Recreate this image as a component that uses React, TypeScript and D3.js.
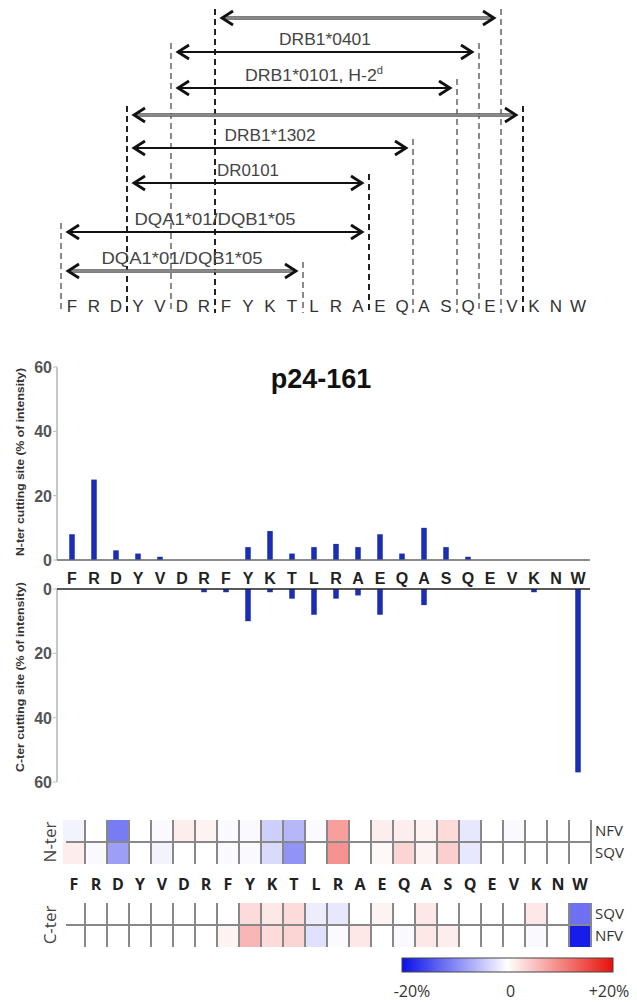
import React from "react";
import * as d3 from "d3";

// peptide sequence p24-161
const residues = ["F", "R", "D", "Y", "V", "D", "R", "F", "Y", "K", "T", "L", "R", "A", "E", "Q", "A", "S", "Q", "E", "V", "K", "N", "W"];

// cutting site intensities (% of intensity)
const nterCut = [8, 25, 3, 2, 1, 0, 0, 0, 4, 9, 2, 4, 5, 4, 8, 2, 10, 4, 1, 0, 0, 0, 0, 0];
const cterCut = [0, 0, 0, 0, 0, 0, 1, 1, 10, 1, 3, 8, 3, 2, 8, 0, 5, 0, 0, 0, 0, 1, 0, 57];
const yTicks = [0, 20, 40, 60];

// heatmap differences (%), -20 .. +20
const nterNFV = [-1, 0, -11, 0, -0.5, 1.5, 1, -0.5, -0.5, -4, -6, -0.3, 8, 0, 1.5, 1.5, 1, 3, -2, 0, -0.5, 0, 0, 0];
const nterSQV = [1.5, -0.5, -8, 0, -1, 0, 0, -0.5, -0.5, -3, -9, 0, 9, 0, 0.5, 3.5, 1, 4, -2, 0, 0, 0, 0, 0];
const cterSQV = [0, 0, 0, 0, 0, 0, 0, 0, 3, 2, 3, -1.5, -2, 0, 1, 0, 2, 0, 0, 0, 0, 2, 0, -12];
const cterNFV = [0, 0, 0, 0, 0, 0, 0, 1, 6, 3, 3.5, -2.5, -0.3, 2, 0, -0.5, 2, 1.5, 0, 0, 0, -0.5, 0, -19];
const colorTicks = [-20, 0, 20];
const colorTickLabels = ["-20%", "0", "+20%"];

// epitopes: boundary index before start residue / before end residue
const epitopeLabels = ["", "DRB1*0401", "DRB1*0101, H-2", "", "DRB1*1302", "DR0101", "DQA1*01/DQB1*05", "DQA1*01/DQB1*05"];
const epitopeSup = ["", "", "d", "", "", "", "", ""];
const epitopeStart = [7, 5, 5, 3, 3, 3, 0, 0];
const epitopeEnd = [20, 19, 18, 21, 16, 14, 14, 11];

const W = 637;
const H = 1002;
const arrowY = [18, 52, 88, 115, 148, 183, 232, 271];
const labelW = [0, 92, 138, 0, 91, 62, 161, 161];
const doubleArrows = [0, 3, 7];
const darkBounds = [3, 7, 14, 21];

const idx = residues.map((_, i) => i);
const x = d3.scaleBand<number>().domain(idx).range([61, 589]);
const cx = (i: number) => (x(i) as number) + x.bandwidth() / 2;
const bound = (i: number) => (i < residues.length ? (x(i) as number) : x.range()[1]);

const hx = d3.scaleBand<number>().domain(idx).range([63, 591]);

const yN = d3.scaleLinear().domain([0, 60]).range([560, 367]);
const yC = d3.scaleLinear().domain([0, 60]).range([589, 782]);

const color = d3.scaleLinear<string>().domain([-20, 0, 20]).range(["#0a10e8", "#ffffff", "#e8100a"]);
const cbar = d3.scaleLinear().domain([-20, 20]).range([402, 613]);
const cbarLabel = d3.scaleLinear().domain([-20, 20]).range([412, 609]);

const BAR = "#1a2db5";
const heatFont = "'Open Sans', 'Liberation Sans', sans-serif";

function Arrow({ k }: { k: number }) {
  const y = arrowY[k];
  const x1 = bound(epitopeStart[k]) + 7;
  const x2 = bound(epitopeEnd[k]) - 7;
  const dbl = doubleArrows.includes(k);
  const head = `M${x1 + 11},${y - 7}L${x1},${y}L${x1 + 11},${y + 7}M${x2 - 11},${y - 7}L${x2},${y}L${x2 - 11},${y + 7}`;
  return (
    <g>
      <line x1={x1 + 1} x2={x2 - 1} y1={y} y2={y} stroke={dbl ? "#555" : "#111"} strokeWidth={dbl ? 3.5 : 2.2} />
      {dbl && <line x1={x1 + 3} x2={x2 - 3} y1={y} y2={y} stroke="#bbb" strokeWidth={1} />}
      <path d={head} fill="none" stroke="#111" strokeWidth={2.8} />
      {epitopeLabels[k] && (
        <text
          x={(x1 + x2) / 2}
          y={y - 7}
          textAnchor="middle"
          fontSize={16}
          fill="#444"
          textLength={labelW[k]}
          lengthAdjust="spacingAndGlyphs"
        >
          {epitopeLabels[k]}
          {epitopeSup[k] && (
            <tspan fontSize={10} dy={-7}>
              {epitopeSup[k]}
            </tspan>
          )}
        </text>
      )}
    </g>
  );
}

function Heat({ y0, top, bottom, names, label }: { y0: number; top: number[]; bottom: number[]; names: string[]; label: string }) {
  const rh = 22;
  return (
    <g>
      {[top, bottom].map((row, r) =>
        row.map((v, i) => (
          <rect key={`${r}-${i}`} x={hx(i)} y={y0 + r * rh} width={hx.bandwidth()} height={rh} fill={color(v)} />
        ))
      )}
      <line x1={66} x2={591} y1={y0 + rh} y2={y0 + rh} stroke="#888" strokeWidth={2} />
      {idx.slice(1).concat([residues.length]).map((i) => (
        <line key={i} x1={bound2(i)} x2={bound2(i)} y1={y0} y2={y0 + 2 * rh} stroke="#888" strokeWidth={2} />
      ))}
      {names.map((n, r) => (
        <text key={n} x={595} y={y0 + r * rh + 16} fontSize={15} fill="#333" fontFamily={heatFont}>
          {n}
        </text>
      ))}
      <text transform={`translate(56,${y0 + rh}) rotate(-90)`} textAnchor="middle" fontSize={17} fill="#444" fontFamily={heatFont}>
        {label}
      </text>
    </g>
  );
}

function bound2(i: number) {
  return i < residues.length ? (hx(i) as number) : hx.range()[1];
}

export default function App() {
  const topLines = Array.from(new Set([...epitopeStart, ...epitopeEnd]));
  const lineTop = (b: number) => {
    const rows = idx.filter((_, k) => k < arrowY.length && (epitopeStart[k] === b || epitopeEnd[k] === b));
    return arrowY[Math.min(...rows)] - 9;
  };
  return (
    <svg
      width={W}
      height={H}
      style={{ position: "absolute", left: 0, top: 0, background: "#fff" }}
      fontFamily="'Liberation Sans', Arial, sans-serif"
    >
      <defs>
        <linearGradient id="cbar" x1="0" x2="1" y1="0" y2="0">
          {d3.range(0, 1.001, 0.1).map((t) => (
            <stop key={t} offset={t} stopColor={color(-20 + 40 * t)} />
          ))}
        </linearGradient>
      </defs>

      {/* epitope map */}
      {topLines.map((b) => (
        <line
          key={b}
          x1={bound(b)}
          x2={bound(b)}
          y1={lineTop(b)}
          y2={313}
          stroke={darkBounds.includes(b) ? "#222" : "#8a8a8a"}
          strokeWidth={2}
          strokeDasharray="6,4"
        />
      ))}
      {arrowY.map((_, k) => (
        <Arrow key={k} k={k} />
      ))}
      {residues.map((r, i) => (
        <text key={i} x={cx(i)} y={312} textAnchor="middle" fontSize={17} fill="#333">
          {r}
        </text>
      ))}

      {/* title */}
      <text x={321} y={388} textAnchor="middle" fontSize={27} fontWeight="bold" fill="#111">
        p24-161
      </text>

      {/* N-ter bars */}
      <line x1={57} x2={57} y1={yN(60)} y2={yN(0)} stroke="#c8c8c8" strokeWidth={2} />
      {yTicks.map((t) => (
        <g key={t}>
          <line x1={53} x2={57} y1={yN(t)} y2={yN(t)} stroke="#bbb" />
          <text x={52} y={yN(t) + 6} textAnchor="end" fontSize={16} fontWeight="bold" fill="#555" fontFamily="'Liberation Sans Narrow', 'Liberation Sans', Arial">
            {t}
          </text>
        </g>
      ))}
      <text transform="translate(24,462) rotate(-90)" textAnchor="middle" fontSize={10} fontWeight="bold" fill="#333" textLength={188} lengthAdjust="spacingAndGlyphs">
        N-ter cutting site (% of intensity)
      </text>
      {nterCut.map((v, i) => (
        <rect key={i} x={cx(i) - 2.75} y={yN(v)} width={5.5} height={yN(0) - yN(v)} fill={BAR} />
      ))}
      <line x1={57} x2={590} y1={yN(0)} y2={yN(0)} stroke="#666" strokeWidth={1.5} />
      {residues.map((r, i) => (
        <text key={i} x={cx(i)} y={584} textAnchor="middle" fontSize={16} fontWeight="bold" fill="#222">
          {r}
        </text>
      ))}

      {/* C-ter bars */}
      <line x1={57} x2={57} y1={yC(0)} y2={yC(60)} stroke="#c8c8c8" strokeWidth={2} />
      {yTicks.map((t) => (
        <g key={t}>
          <line x1={53} x2={57} y1={yC(t)} y2={yC(t)} stroke="#bbb" />
          <text x={52} y={yC(t) + 6} textAnchor="end" fontSize={16} fontWeight="bold" fill="#555" fontFamily="'Liberation Sans Narrow', 'Liberation Sans', Arial">
            {t}
          </text>
        </g>
      ))}
      <text transform="translate(24,677) rotate(-90)" textAnchor="middle" fontSize={10} fontWeight="bold" fill="#333" textLength={190} lengthAdjust="spacingAndGlyphs">
        C-ter cutting site (% of intensity)
      </text>
      {cterCut.map((v, i) => (
        <rect key={i} x={cx(i) - 2.75} y={yC(0)} width={5.5} height={yC(v) - yC(0)} fill={BAR} />
      ))}
      <line x1={57} x2={590} y1={yC(0)} y2={yC(0)} stroke="#222" strokeWidth={1.5} />

      {/* heatmaps */}
      <Heat y0={820} top={nterNFV} bottom={nterSQV} names={["NFV", "SQV"]} label="N-ter" />
      {residues.map((r, i) => (
        <text key={i} x={(hx(i) as number) + hx.bandwidth() / 2} y={890} textAnchor="middle" fontSize={16} fontWeight="bold" fill="#222" fontFamily={heatFont}>
          {r}
        </text>
      ))}
      <Heat y0={903} top={cterSQV} bottom={cterNFV} names={["SQV", "NFV"]} label="C-ter" />

      {/* colour scale */}
      <rect x={cbar(-20)} y={958} width={cbar(20) - cbar(-20)} height={14} fill="url(#cbar)" stroke="#444" strokeWidth={1} />
      {colorTicks.map((t, i) => (
        <text key={t} x={cbarLabel(t)} y={997} textAnchor="middle" fontSize={16} fill="#333" fontFamily={heatFont}>
          {colorTickLabels[i]}
        </text>
      ))}
    </svg>
  );
}
